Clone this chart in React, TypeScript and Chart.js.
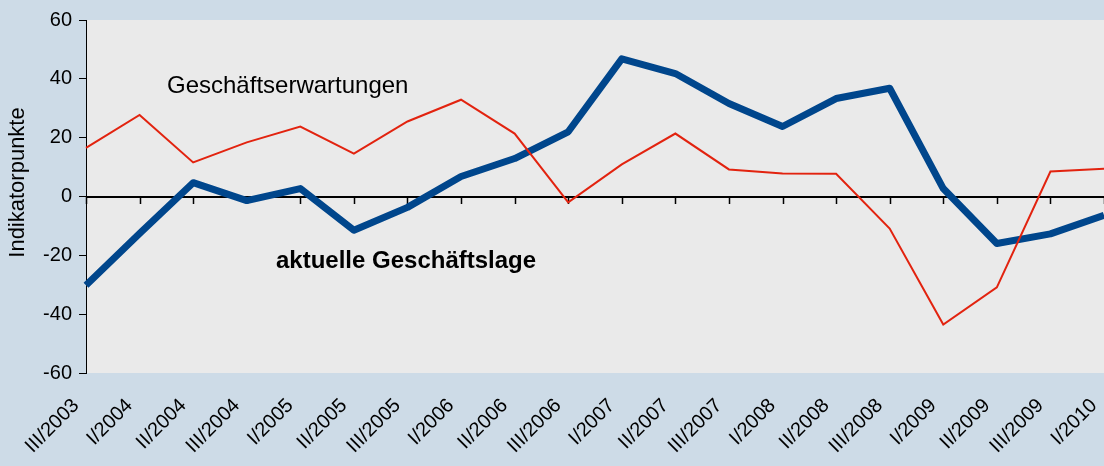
import { useEffect, useRef } from "react";
import { Chart, registerables } from "chart.js";

Chart.register(...registerables);

const categories = [
  "III/2003", "I/2004", "II/2004", "III/2004", "I/2005", "II/2005", "III/2005",
  "I/2006", "II/2006", "III/2006", "I/2007", "II/2007", "III/2007", "I/2008",
  "II/2008", "III/2008", "I/2009", "II/2009", "III/2009", "I/2010",
];
const aktuelleLage = [
  -30.2, -12.6, 4.7, -1.4, 2.7, -11.5, -3.7, 6.8, 12.9, 22.0,
  46.8, 41.8, 31.6, 23.8, 33.3, 36.8, 2.7, -16.0, -12.7, -6.4,
];
const erwartungen = [
  16.5, 27.7, 11.6, 18.4, 23.8, 14.6, 25.5, 32.9, 21.4, -2.0,
  10.9, 21.4, 9.2, 7.8, 7.7, -10.9, -43.5, -30.9, 8.5, 9.4,
];
const yTickValues = [-60, -40, -20, 0, 20, 40, 60];
const seriesNames = ["aktuelle Geschäftslage", "Geschäftserwartungen"];
const yTitle = "Indikatorpunkte";

const FONT = "'Liberation Sans', Arial, sans-serif";

export default function App() {
  const ref = useRef<HTMLCanvasElement>(null);

  useEffect(() => {
    document.body.style.margin = "0";
    const canvas = ref.current;
    if (!canvas) return;

    const plotBg = {
      id: "plotBg",
      beforeDraw(chart: any) {
        const { ctx, chartArea: a } = chart;
        ctx.save();
        ctx.fillStyle = "#eaeaea";
        ctx.fillRect(a.left, a.top, a.right - a.left, a.bottom - a.top);
        ctx.restore();
      },
    };

    // category axis crossing at value 0 (line + tick marks), drawn under the series
    const zeroAxis = {
      id: "zeroAxis",
      beforeDatasetsDraw(chart: any) {
        const { ctx, chartArea: a } = chart;
        const xs = chart.scales.x;
        const ys = chart.scales.y;
        const y0 = Math.round(ys.getPixelForValue(0));
        ctx.save();
        ctx.strokeStyle = "#000";
        ctx.lineWidth = 2;
        ctx.beginPath();
        ctx.moveTo(a.left, y0);
        ctx.lineTo(a.right, y0);
        ctx.stroke();
        ctx.lineWidth = 1.5;
        ctx.beginPath();
        for (let i = 0; i < xs.ticks.length; i++) {
          const px = Math.round(xs.getPixelForTick(i)) + 0.5;
          ctx.moveTo(px, y0);
          ctx.lineTo(px, y0 + 7);
        }
        ctx.stroke();
        ctx.restore();
      },
    };

    const texts = {
      id: "texts",
      afterDraw(chart: any) {
        const { ctx, chartArea: a } = chart;
        ctx.save();
        ctx.fillStyle = "#000";
        ctx.textAlign = "left";
        ctx.textBaseline = "alphabetic";
        ctx.font = `24px ${FONT}`;
        ctx.fillText(seriesNames[1], a.left + 81, a.top + 73);
        ctx.font = `bold 24px ${FONT}`;
        ctx.fillText(seriesNames[0], a.left + 190, a.top + 248);
        // y axis title
        ctx.font = `22px ${FONT}`;
        ctx.translate(24, (a.top + a.bottom) / 2 - 14);
        ctx.rotate(-Math.PI / 2);
        ctx.textAlign = "center";
        ctx.fillText(yTitle, 0, 0);
        ctx.restore();
      },
    };

    const chart = new Chart(canvas, {
      type: "line",
      data: {
        labels: categories,
        datasets: [
          {
            label: seriesNames[0],
            data: aktuelleLage,
            borderColor: "#00468c",
            backgroundColor: "#00468c",
            borderWidth: 7,
            pointRadius: 0,
            tension: 0,
            borderJoinStyle: "round",
            order: 1,
          },
          {
            label: seriesNames[1],
            data: erwartungen,
            borderColor: "#e2230f",
            backgroundColor: "#e2230f",
            borderWidth: 2,
            pointRadius: 0,
            tension: 0,
            order: 0,
          },
        ],
      },
      options: {
        animation: false,
        responsive: false,
        devicePixelRatio: 1,
        layout: { padding: { top: 20, right: 0, bottom: 0, left: 0 } },
        plugins: {
          legend: { display: false },
          tooltip: { enabled: false },
          title: { display: false },
        },
        scales: {
          x: {
            type: "category",
            offset: false,
            grid: { display: false, drawTicks: false },
            border: { display: false },
            ticks: {
              autoSkip: false,
              minRotation: 45,
              maxRotation: 45,
              padding: 21,
              labelOffset: -10,
              color: "#000",
              font: { family: FONT, size: 20 },
            },
            afterFit(s: any) {
              s.height = 93;
              s.paddingLeft = 0;
              s.paddingRight = 0;
            },
          },
          y: {
            min: yTickValues[0],
            max: yTickValues[yTickValues.length - 1],
            afterBuildTicks(s: any) {
              s.ticks = yTickValues.map((v) => ({ value: v }));
            },
            ticks: {
              color: "#000",
              padding: 7,
              font: { family: FONT, size: 20 },
            },
            grid: {
              drawOnChartArea: false,
              drawTicks: true,
              tickLength: 7,
              color: "#000",
            },
            border: { color: "#000", width: 1 },
            afterFit(s: any) {
              s.width = 86;
            },
          },
        },
      } as any,
      plugins: [plotBg, zeroAxis, texts],
    });

    return () => chart.destroy();
  }, []);

  return (
    <div style={{ width: 1104, height: 466, background: "#cddbe7", overflow: "hidden" }}>
      <canvas ref={ref} width={1104} height={466} style={{ display: "block" }} />
    </div>
  );
}
